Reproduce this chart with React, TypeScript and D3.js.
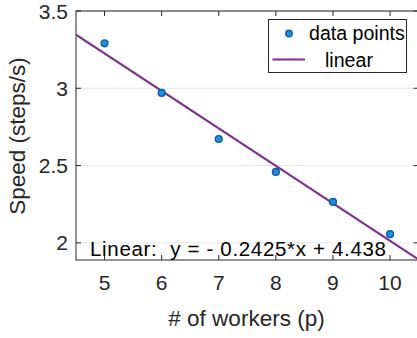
import React from "react";
import * as d3 from "d3";

const workers = [5, 6, 7, 8, 9, 10];
const speed = [3.291, 2.97, 2.672, 2.459, 2.265, 2.056];
const slope = -0.2425;
const intercept = 4.438;
const xTicks = [5, 6, 7, 8, 9, 10];
const yTicks = [2, 2.5, 3, 3.5];
const xDomain = [4.5, 10.5];
const yDomain = [1.889, 3.5];

const W = 417;
const H = 338;
const m = { left: 76, top: 11, right: 418.6, bottom: 260 };
const font = "'Liberation Sans', Arial, Helvetica, sans-serif";
const ink = "#262626";

export default function App() {
  const x = d3.scaleLinear().domain(xDomain).range([m.left, m.right]);
  const y = d3.scaleLinear().domain(yDomain).range([m.bottom, m.top]);
  const line = d3
    .line<number>()
    .x((d) => x(d))
    .y((d) => y(slope * d + intercept));
  const tick = 5;
  const equation = `Linear:  y = - ${-slope}*x + ${intercept}`;
  return (
    <svg
      width={W}
      height={H}
      style={{ position: "absolute", left: 0, top: 0, background: "#fff" }}
      fontFamily={font}
    >
      <defs>
        <clipPath id="plot">
          <rect x={m.left} y={m.top} width={m.right - m.left} height={m.bottom - m.top} />
        </clipPath>
      </defs>
      {/* horizontal grid */}
      {yTicks.map((t) => (
        <line key={"g" + t} x1={m.left} x2={m.right} y1={y(t)} y2={y(t)} stroke="#e6e6e6" strokeWidth={1} />
      ))}
      {/* least-squares fit */}
      <path d={line(xDomain) || ""} stroke="#7e2f8e" strokeWidth={2} fill="none" clipPath="url(#plot)" />
      {/* measured speeds */}
      {workers.map((w, i) => (
        <circle key={w} cx={x(w)} cy={y(speed[i])} r={3.4} fill="#1f90e0" stroke="#0b5e9e" strokeWidth={1.4} />
      ))}
      {/* axes box and ticks */}
      <rect x={m.left} y={m.top} width={m.right - m.left} height={m.bottom - m.top} fill="none" stroke={ink} strokeWidth={1} />
      {xTicks.map((t) => (
        <g key={"x" + t}>
          <line x1={x(t)} x2={x(t)} y1={m.bottom} y2={m.bottom - tick} stroke={ink} />
          <line x1={x(t)} x2={x(t)} y1={m.top} y2={m.top + tick} stroke={ink} />
          <text x={x(t)} y={m.bottom + 30} textAnchor="middle" fontSize={21} fill={ink}>
            {t}
          </text>
        </g>
      ))}
      {yTicks.map((t) => (
        <g key={"y" + t}>
          <line x1={m.left} x2={m.left + tick} y1={y(t)} y2={y(t)} stroke={ink} />
          <line x1={m.right} x2={m.right - tick} y1={y(t)} y2={y(t)} stroke={ink} />
          <text x={m.left - 8} y={y(t) + 7.5} textAnchor="end" fontSize={21} fill={ink}>
            {t}
          </text>
        </g>
      ))}
      {/* axis titles */}
      <text x={246.5} y={326} textAnchor="middle" fontSize={22.5} fill={ink}>
        # of workers (p)
      </text>
      <text
        transform={`translate(24.5, 136) rotate(-90)`}
        textAnchor="middle"
        fontSize={22.5}
        fill={ink}
      >
        Speed (steps/s)
      </text>
      {/* legend */}
      <rect x={268.5} y={19.5} width={138} height={53} fill="#fff" stroke={ink} strokeWidth={1} />
      <circle cx={289} cy={33.5} r={3.2} fill="#1f90e0" stroke="#0b5e9e" strokeWidth={1.4} />
      <text x={309} y={40} fontSize={19.6} fill="#000">
        data points
      </text>
      <line x1={272.5} x2={305} y1={59.5} y2={59.5} stroke="#7e2f8e" strokeWidth={2} />
      <text x={325} y={66.5} fontSize={19.6} fill="#000">
        linear
      </text>
      {/* fit equation */}
      <text
        x={90}
        y={256}
        fontSize={20.5}
        fill="#000"
        textLength={296}
        lengthAdjust="spacing"
        style={{ whiteSpace: "pre" }}
      >
        {equation}
      </text>
    </svg>
  );
}
